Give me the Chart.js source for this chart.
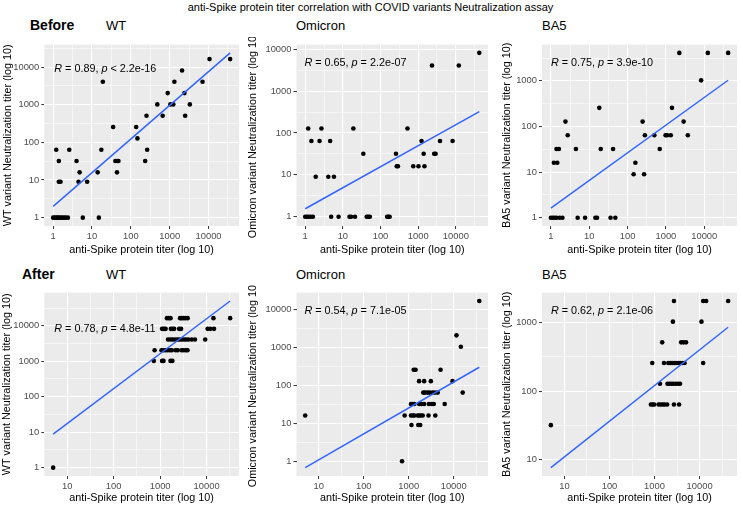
<!DOCTYPE html>
<html>
<head>
<meta charset="utf-8">
<script src="https://cdn.jsdelivr.net/npm/chart.js@4.4.0/dist/chart.umd.min.js"></script>
<style>
  body { margin: 0; background: #fff; width: 741px; height: 506px; position: relative; overflow: hidden;
         font-family: "Liberation Sans", Arial, sans-serif; }
  .t { position: absolute; white-space: nowrap; line-height: 1; color: #000; }
  canvas { position: absolute; }
</style>
</head>
<body>
<div class="t" style="left:0;width:741px;text-align:center;top:2px;font-size:11px">anti-Spike protein titer correlation with COVID variants Neutralization assay</div>
<div class="t" style="left:30px;top:18px;font-size:14px;font-weight:bold">Before</div>
<div class="t" style="left:106px;top:18.5px;font-size:13px">WT</div>
<div class="t" style="left:296px;top:18.5px;font-size:13px">Omicron</div>
<div class="t" style="left:542px;top:18.5px;font-size:13px">BA5</div>
<div class="t" style="left:22px;top:267px;font-size:14px;font-weight:bold">After</div>
<div class="t" style="left:106px;top:267.5px;font-size:13px">WT</div>
<div class="t" style="left:296px;top:267.5px;font-size:13px">Omicron</div>
<div class="t" style="left:542px;top:267.5px;font-size:13px">BA5</div>

<canvas id="c1"></canvas><canvas id="c2"></canvas><canvas id="c3"></canvas>
<canvas id="c4"></canvas><canvas id="c5"></canvas><canvas id="c6"></canvas>

<script>
// ── Data: anti-Spike titer (x) vs neutralization titer (y) ─────────────
const beforeWtX  = [1,1.1,1.2,1.3,1.4,1.55,1.7,1.9,2.1,2.4,5.8,15,
                    1.2,2.6,1.4,1.4,1.55,4.0,4.8,4.5,7.5,14,17.4,19,35,40,45,48,44,137,148,234,263,253,
                    480,660,890,1040,1240,1320,2080,2400,2500,3300,7000,10600,36000];
const beforeWtY  = [1,1,1,1,1,1,1,1,1,1,1,1,
                    64,64,32,9,9,32,16,9,9,16,64,4096,256,32,32,32,16,256,128,32,64,512,
                    1024,512,2048,1024,1024,4096,8192,2048,512,1024,4096,16384,16384];

const beforeOmiX = [1,1.1,1.23,1.38,1.6,4.9,7.7,15,16.5,21,43,47,52,150,162,175,
                    1.2,1.46,1.9,2.4,2.7,4.1,4.6,5.8,19,35,257,270,290,520,740,
                    1020,1230,1400,1470,2660,2900,2330,3800,8200,12000,42000];
const beforeOmiY = [1,1,1,1,1,1,1,1,1,1,1,1,1,1,1,1,
                    128,64,9,64,128,9,64,9,128,32,32,16,16,128,16,
                    16,64,32,16,32,32,4096,64,64,4096,8192];

const beforeBa5X = [1,1.12,1.25,1.4,1.7,2.0,5,7.8,14.5,16,36,48,
                    1.2,1.47,1.4,1.62,2.4,2.75,4.5,18.3,20,42,144,160,247,270,283,
                    500,690,980,1080,1340,1440,2240,2900,3730,8300,12400,42000];
const beforeBa5Y = [1,1,1,1,1,1,1,1,1,1,1,1,
                    16,16,32,32,128,64,32,256,32,32,9,16,128,9,64,
                    64,32,64,64,64,256,4096,128,64,1024,4096,4096];

const afterWtX   = [5,
                    1400,1540,1670,2680,2900,3170,3500,3900,14000,32000,
                    1100,1200,1310,1700,1860,2000,2560,2820,10500,12000,14400,
                    1480,1670,1860,2090,2350,2600,2900,3250,3600,4070,4800,5600,9300,
                    760,1070,1180,1310,1440,1620,1780,2150,2390,2900,3200,3560,3870,
                    730,1100,1180,1670,1830];
const afterWtY   = [1,
                    16384,16384,16384,16384,16384,16384,16384,16384,16384,16384,
                    8192,8192,8192,8192,8192,8192,8192,8192,8192,8192,8192,
                    4096,4096,4096,4096,4096,4096,4096,4096,4096,4096,4096,4096,4096,
                    2048,2048,2048,2048,2048,2048,2048,2048,2048,2048,2048,2048,2048,
                    1024,1024,1024,1024,1024];

const afterOmiX  = [5,710,37000,11500,14400,15800,9400,5100,6300,
                    1290,1420,1700,2200,3100,
                    2100,2300,2600,2900,3350,3800,4400,
                    1120,1230,1330,1700,1930,2200,2800,3250,3600,
                    810,1120,1230,1330,1580,1700,1860,2040,2750,3900,
                    1150,1630,1800];
const afterOmiY  = [16,1,16384,2048,1024,64,128,256,32,
                    256,256,128,128,128,
                    64,64,64,64,64,64,64,
                    32,32,32,32,32,32,32,32,32,
                    16,16,16,16,16,16,16,16,16,16,
                    9,9,9];

const afterBa5X  = [5,
                    2700,12000,14000,43000,
                    2560,11000,
                    1480,3900,4400,5000,
                    890,1620,2020,2240,2460,2720,3000,3350,3700,4170,4650,12000,
                    1320,1940,2150,2390,2620,2960,3320,3680,
                    830,910,980,1230,1370,1510,1670,1900,2700,3500];
const afterBa5Y  = [32,
                    2048,2048,2048,2048,
                    1024,1024,
                    512,512,512,512,
                    256,256,256,256,256,256,256,256,256,256,256,256,
                    128,128,128,128,128,128,128,128,
                    64,64,64,64,64,64,64,64,64,64];

// linear fit (log-log) end points
const fitX = [[1, 36000], [1, 42000], [1, 42000], [5, 32000], [5, 37000], [5, 43000]];
const fitY = [[2.0, 24000], [1.55, 323], [1.62, 1030], [8.8, 50000], [0.68, 297], [7.7, 850]];

// correlation labels
const statR = ['0.89', '0.65', '0.75', '0.78', '0.54', '0.62'];
const statP = ['< 2.2e-16', '= 2.2e-07', '= 3.9e-10', '= 4.8e-11', '= 7.1e-05', '= 2.1e-06'];

const yTitles = ['WT variant Neutralization titer (log 10)',
                 'Omicron variant Neutralization titer (log 10)',
                 'BA5 variant Neutralization titer (log 10)'];
const xTitle = 'anti-Spike protein titer (log 10)';

// ── Layout ─────────────────────────────────────────────────────────────
const FONT = '"Liberation Sans", Arial, sans-serif';
Chart.defaults.font.family = FONT;

const panels = [
  { id: 'c1', x: beforeWtX,  y: beforeWtY,  left: 0,   top: 37,  w: 243, h: 222, yw: 44.3, xh: 33, pr: 2, tp: 2,   xp: 2.5, dx: 10, dy: 24 },
  { id: 'c2', x: beforeOmiX, y: beforeOmiY, left: 247, top: 37,  w: 245, h: 222, yw: 49.5, xh: 33, pr: 2, tp: 0,   xp: 2.5, dx: 8,  dy: 18 },
  { id: 'c3', x: beforeBa5X, y: beforeBa5Y, left: 500, top: 37,  w: 241, h: 222, yw: 42,   xh: 33, pr: 0, tp: 1,   xp: 2.5, dx: 9,  dy: 18 },
  { id: 'c4', x: afterWtX,   y: afterWtY,   left: 0,   top: 285, w: 243, h: 221, yw: 44.3, xh: 30, pr: 2, tp: 0.5, xp: 1.5, dx: 10, dy: 36 },
  { id: 'c5', x: afterOmiX,  y: afterOmiY,  left: 247, top: 285, w: 245, h: 221, yw: 49.5, xh: 30, pr: 2, tp: 0,   xp: 1.5, dx: 8,  dy: 18 },
  { id: 'c6', x: afterBa5X,  y: afterBa5Y,  left: 500, top: 285, w: 241, h: 221, yw: 42,   xh: 30, pr: 0, tp: 1,   xp: 1.5, dx: 9,  dy: 18 },
];

// ── Helpers ────────────────────────────────────────────────────────────
// ggplot-like limits: data range in log space, expanded 5% each side
function logLimits(vals) {
  const l = vals.map(Math.log10);
  const lo = Math.min(...l), hi = Math.max(...l), e = (hi - lo) * 0.05;
  return [Math.pow(10, lo - e), Math.pow(10, hi + e)];
}

// decade breaks plus minor breaks half a decade between
function logTicks(scale) {
  const lo = Math.log10(scale.min), hi = Math.log10(scale.max);
  const ticks = [];
  for (let k = Math.floor(lo); k <= Math.ceil(hi); k++) {
    if (k >= lo && k <= hi) ticks.push({ value: Math.pow(10, k), minor: false });
    if (k + 0.5 >= lo && k + 0.5 <= hi) ticks.push({ value: Math.pow(10, k + 0.5), minor: true });
  }
  scale.ticks = ticks;
}

const isMinor = c => c.tick && c.tick.minor;

function axis(min, max, title, pad, fit) {
  return {
    type: 'logarithmic', min, max,
    afterBuildTicks: logTicks,
    afterFit: fit,
    ticks: {
      autoSkip: false, maxRotation: 0, padding: 2,
      color: '#4D4D4D', font: { size: 9.4 },
      callback: (v, i, t) => (t[i] && t[i].minor) ? '' : String(Math.round(v))
    },
    grid: {
      color: '#fff',
      lineWidth: c => isMinor(c) ? 0.55 : 1.1,
      tickColor: c => isMinor(c) ? 'rgba(0,0,0,0)' : '#333',
      tickLength: 3, tickWidth: 1
    },
    border: { display: false },
    title: { display: true, text: title, color: '#000', font: { size: 10.8 }, padding: pad }
  };
}

const bgPlugin = {
  id: 'panelBg',
  beforeDraw(chart) {
    const a = chart.chartArea, ctx = chart.ctx;
    ctx.save();
    ctx.fillStyle = '#EBEBEB';
    ctx.fillRect(a.left, a.top, a.right - a.left, a.bottom - a.top);
    ctx.restore();
  }
};

const statPlugin = {
  id: 'stat',
  afterDatasetsDraw(chart, args, opts) {
    const ctx = chart.ctx, a = chart.chartArea;
    let x = a.left + opts.dx;
    const y = a.top + opts.dy;
    ctx.save();
    ctx.fillStyle = '#000';
    ctx.textBaseline = 'middle';
    opts.parts.forEach(([txt, it]) => {
      ctx.font = (it ? 'italic ' : '') + '10.8px ' + FONT;
      ctx.fillText(txt, x, y);
      x += ctx.measureText(txt).width;
    });
    ctx.restore();
  }
};

// ── Build charts ───────────────────────────────────────────────────────
panels.forEach((p, i) => {
  const cv = document.getElementById(p.id);
  cv.width = p.w; cv.height = p.h;
  cv.style.left = p.left + 'px'; cv.style.top = p.top + 'px';

  const [xmin, xmax] = logLimits(p.x.concat(fitX[i]));
  const [ymin, ymax] = logLimits(p.y.concat(fitY[i]));

  new Chart(cv.getContext('2d'), {
    type: 'scatter',
    data: {
      datasets: [
        { data: fitX[i].map((v, j) => ({ x: v, y: fitY[i][j] })), showLine: true,
          borderColor: '#3366FF', borderWidth: 1.5, pointRadius: 0 },
        { data: p.x.map((v, j) => ({ x: v, y: p.y[j] })),
          backgroundColor: '#000', borderWidth: 0, pointRadius: 2.3 }
      ]
    },
    options: {
      responsive: false, animation: false, events: [],
      layout: { padding: { top: 2, right: p.pr, left: 0, bottom: 0 } },
      scales: {
        x: axis(xmin, xmax, xTitle, { top: 0, bottom: p.xp }, s => { s.height = p.xh; }),
        y: axis(ymin, ymax, yTitles[i % 3], { top: p.tp, bottom: 0 }, s => { s.width = p.yw; })
      },
      plugins: {
        legend: { display: false }, tooltip: { enabled: false },
        stat: { dx: p.dx, dy: p.dy,
                parts: [['R', true], [' = ' + statR[i] + ', ', false], ['p', true], [' ' + statP[i], false]] }
      }
    },
    plugins: [bgPlugin, statPlugin]
  });
});
</script>
</body>
</html>
